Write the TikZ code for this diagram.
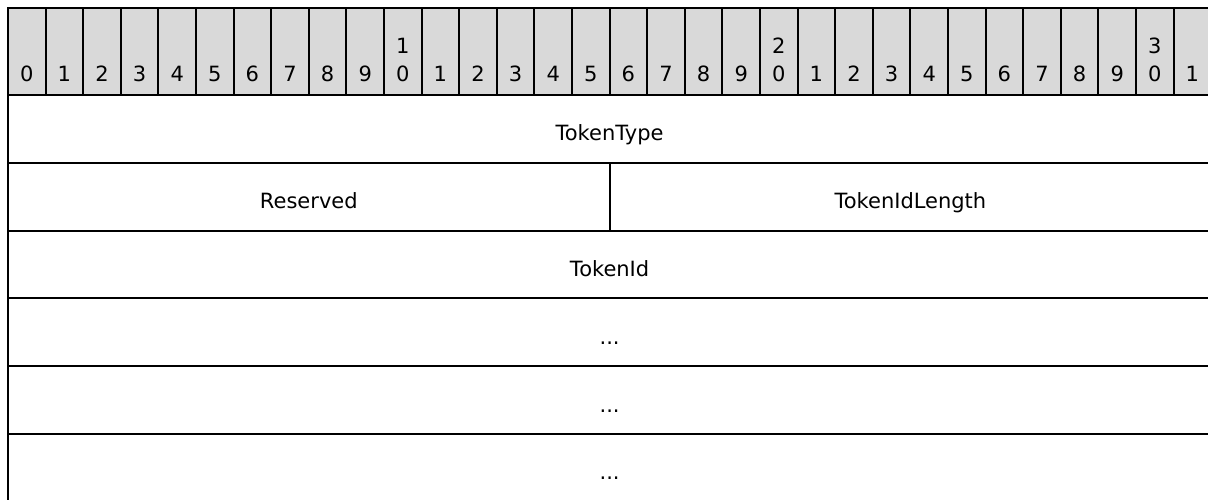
\documentclass[tikz,border=0pt]{standalone}
\usepackage{fontspec}
\setmainfont{DejaVu Sans}
\usetikzlibrary{positioning}
\definecolor{hdrgray}{RGB}{217,217,217}
\tikzset{%
  bitcell/.style={draw,fill=hdrgray,line width=2pt,outer sep=0pt,inner sep=0pt,
    minimum width=37.6pt,minimum height=87pt},
  bitnum/.style={inner sep=0pt,align=center,font=\fontsize{21}{28}\selectfont},
  field/.style={draw,line width=2pt,outer sep=0pt,inner sep=0pt,
    text height=26pt,text depth=2pt,
    minimum height=67.8pt,font=\fontsize{21}{24}\selectfont},
  full/.style={minimum width=1203.2pt},
  half/.style={minimum width=601.6pt}
}

\begin{document}
\begin{tikzpicture}[x=1pt,y=-1pt]
  \useasboundingbox (0,0) rectangle (1208,500);
  \clip (0,0) rectangle (1208,500);

  % header: bit numbers
  \node[bitcell,anchor=north west] (h0) at (8,8) {};
  \node[bitnum,above=13pt of h0.south] {0};
  \foreach \i [remember=\i as \p (initially 0)] in {1,...,31} {
    \pgfmathtruncatemacro\d{mod(\i,10)}
    \pgfmathtruncatemacro\t{\i/10}
    \node[bitcell,right=0pt of h\p] (h\i) {};
    \ifnum\d=0
      \node[bitnum,above=13pt of h\i.south] {\t\\0};
    \else
      \node[bitnum,above=13pt of h\i.south] {\d};
    \fi
  }

  % fields
  \node[field,full,below=0pt of h0.south west,anchor=north west] (type) {TokenType};
  \node[field,half,below=0pt of type.south west,anchor=north west] (res) {Reserved};
  \node[field,half,right=0pt of res] (idlen) {TokenIdLength};
  \node[field,full,below=0pt of res.south west,anchor=north west] (tid) {TokenId};
  \node[field,full,below=0pt of tid] (more1) {...};
  \node[field,full,below=0pt of more1] (more2) {...};
  \node[field,full,below=0pt of more2] (more3) {...};
\end{tikzpicture}
\end{document}
